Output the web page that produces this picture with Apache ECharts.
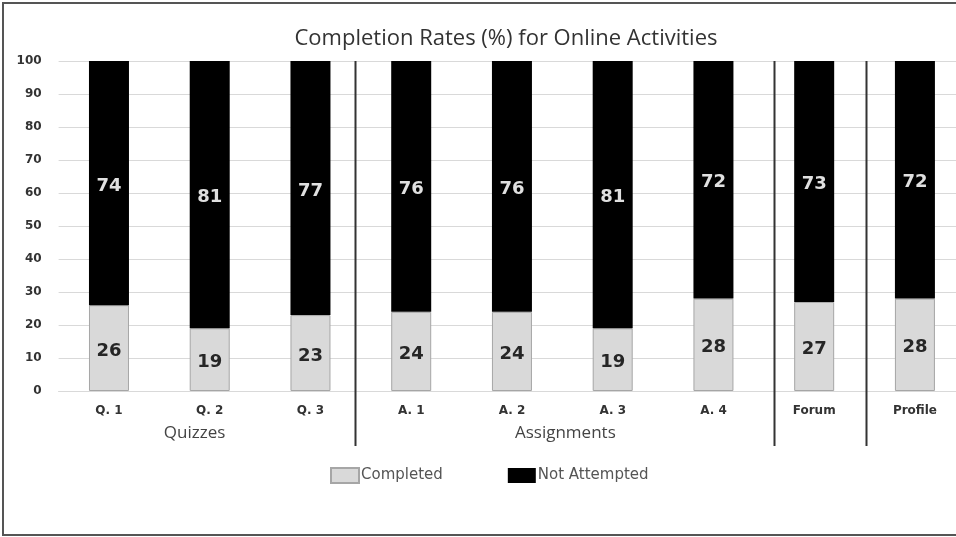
<!DOCTYPE html>
<html>
<head>
<meta charset="utf-8">
<script src="https://cdn.jsdelivr.net/npm/echarts@6/dist/echarts.min.js"></script>
<style>
  html, body { margin: 0; padding: 0; background: #fff; overflow: hidden; }
  #chart { width: 966px; height: 537px; }
</style>
</head>
<body>
<div id="chart"></div>
<script>
// Activity categories and completion values (%)
const categories = ['Q. 1', 'Q. 2', 'Q. 3', 'A. 1', 'A. 2', 'A. 3', 'A. 4', 'Forum', 'Profile'];
const completed = [26, 19, 23, 24, 24, 19, 28, 27, 28];
const notAttempted = [74, 81, 77, 76, 76, 81, 72, 73, 72];
const yTicks = [0, 10, 20, 30, 40, 50, 60, 70, 80, 90, 100];

// Group dividers and group captions, in category units (0 = first category)
const dividers = [2.44, 6.6, 7.51];
const groups = [
  { name: 'Quizzes', at: 0.85 },
  { name: 'Assignments', at: 4.53 }
];

const chart = echarts.init(document.getElementById('chart'));

const GRID = { left: 58.6, top: 61, right: 0.7, height: 330 };

chart.setOption({
  animation: false,
  title: {
    text: 'Completion Rates (%) for Online Activities',
    left: 501,
    textAlign: 'center',
    top: 23,
    textStyle: { fontFamily: 'Open Sans', fontWeight: 'normal', fontSize: 22, color: '#333' }
  },
  legend: {
    left: 325,
    top: 462,
    icon: 'rect',
    itemWidth: 28,
    itemHeight: 15,
    itemGap: 65,
    textStyle: { fontFamily: 'DejaVu Sans', fontSize: 15, color: '#555', padding: [5, 0, 0, -3] },
    data: ['Completed', 'Not Attempted']
  },
  grid: GRID,
  xAxis: [
    {
      type: 'category',
      data: categories,
      axisLine: { lineStyle: { color: '#d9d9d9' } },
      axisTick: { show: false },
      axisLabel: { margin: 14, fontFamily: 'DejaVu Sans', fontSize: 12, fontWeight: 'bold', color: '#333' }
    },
    {
      type: 'value',
      min: -0.5,
      max: categories.length - 0.5,
      show: false
    }
  ],
  yAxis: {
    type: 'value',
    min: 0,
    max: 100,
    interval: 10,
    axisLine: { show: false },
    axisTick: { show: false },
    splitLine: { lineStyle: { color: '#d9d9d9' } },
    axisLabel: {
      margin: 17,
      fontFamily: 'DejaVu Sans',
      fontSize: 12,
      fontWeight: 'bold',
      color: '#333',
      formatter: v => (yTicks.includes(v) ? String(v) : '')
    }
  },
  series: [
    {
      name: 'Completed',
      type: 'bar',
      stack: 'total',
      barWidth: 40,
      data: completed,
      itemStyle: { color: '#d9d9d9', borderColor: '#a6a6a6', borderWidth: 1 },
      label: {
        show: true,
        position: 'inside',
        offset: [0, 3],
        fontFamily: 'DejaVu Sans',
        fontSize: 18,
        fontWeight: 'bold',
        color: '#262626'
      }
    },
    {
      name: 'Not Attempted',
      type: 'bar',
      stack: 'total',
      barWidth: 40,
      data: notAttempted,
      itemStyle: { color: '#000' },
      label: {
        show: true,
        position: 'inside',
        offset: [0, 3],
        fontFamily: 'DejaVu Sans',
        fontSize: 18,
        fontWeight: 'bold',
        color: '#e0e0e0'
      }
    }
  ]
});

// Dividers between activity groups, group captions and the outer frame
function drawExtras() {
  const topY = GRID.top;
  const elements = [];
  dividers.forEach(v => {
    const x = Math.round(chart.convertToPixel({ xAxisIndex: 1 }, v)) + 0.5;
    elements.push({
      type: 'line',
      shape: { x1: x, y1: topY, x2: x, y2: 446 },
      style: { stroke: '#333', lineWidth: 2 },
      z: 10
    });
  });
  groups.forEach(g => {
    const x = chart.convertToPixel({ xAxisIndex: 1 }, g.at);
    elements.push({
      type: 'text',
      x: x,
      y: 433,
      style: {
        text: g.name,
        fontFamily: 'Open Sans',
        fontSize: 17,
        fill: '#444',
        align: 'center',
        verticalAlign: 'middle'
      }
    });
  });
  elements.push({
    type: 'polyline',
    shape: { points: [[970, 3], [3, 3], [3, 535], [970, 535]] },
    style: { fill: null, stroke: '#555', lineWidth: 2 },
    silent: true
  });
  chart.setOption({ graphic: elements });
}
drawExtras();
</script>
</body>
</html>
